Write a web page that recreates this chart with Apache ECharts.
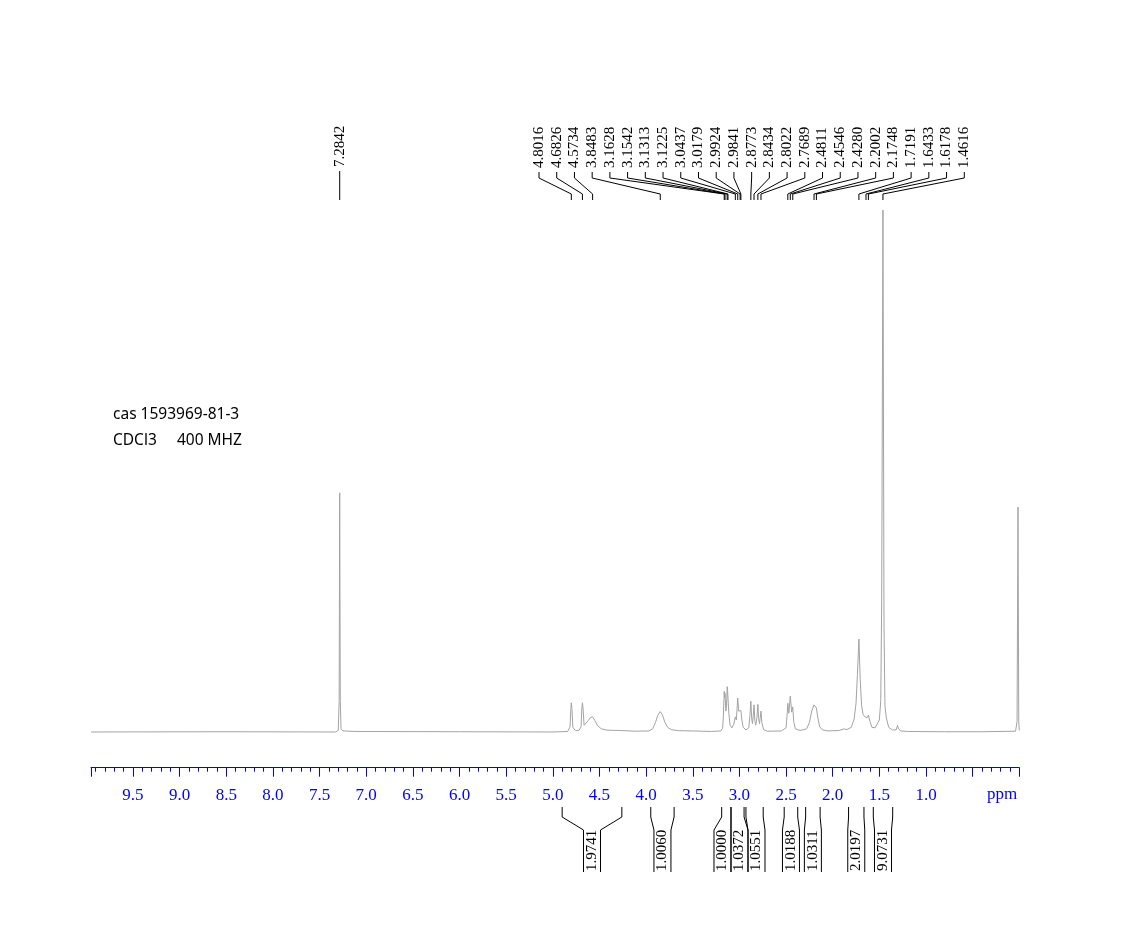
<!DOCTYPE html>
<html><head><meta charset="utf-8">
<script src="https://cdn.jsdelivr.net/npm/echarts@6/dist/echarts.min.js"></script>
<style>html,body{margin:0;padding:0;background:#fff}#c{width:1140px;height:952px}</style>
</head><body><div id="c"></div>
<script>
// ---- data ----
const tickLabels = ['9.5','9.0','8.5','8.0','7.5','7.0','6.5','6.0','5.5','5.0','4.5','4.0','3.5','3.0','2.5','2.0','1.5','1.0'];

// [ppm, relative intensity] points
const spectrum = [
[9.95,0],[8.5,0.05],[7.33,0],[7.30,0.3],[7.29,6],[7.2842,45.8],[7.278,6],[7.27,0.6],[7.25,0.2],[7.1,0.1],
[6.0,0.05],[5.0,0],[4.84,0.1],[4.815,1],[4.807,4.5],[4.8016,5.6],[4.795,4.5],[4.785,0.9],[4.76,0.3],[4.72,0.3],
[4.697,1],[4.689,4.6],[4.6826,5.6],[4.676,4.6],[4.665,1.3],[4.645,1.3],[4.62,2.2],[4.595,2.8],[4.5734,2.9],[4.55,2.2],
[4.52,1.2],[4.48,0.6],[4.42,0.35],[4.31,0.3],[4.1,0.15],[3.97,0.2],[3.93,0.6],[3.90,1.8],[3.875,3.2],[3.8483,3.9],
[3.825,3.3],[3.80,1.9],[3.77,0.9],[3.73,0.45],[3.65,0.25],[3.5,0.2],[3.3,0.1],[3.2,0.2],[3.18,0.7],[3.172,3],
[3.1628,7.8],[3.158,6.6],[3.1542,7.4],[3.145,4],[3.138,5],[3.1313,8.7],[3.127,8],[3.1225,8.2],[3.113,3.5],[3.10,1.3],
[3.08,0.8],[3.06,1.5],[3.0437,2.9],[3.033,2.3],[3.025,4.5],[3.0179,6.5],[3.008,4.0],[2.998,3.8],[2.9924,4.1],[2.988,3.7],
[2.9841,4.1],[2.975,2.5],[2.96,0.9],[2.93,0.4],[2.90,0.8],[2.888,3],[2.8773,5.9],[2.868,2.5],[2.86,1.6],[2.852,3],
[2.8434,5.2],[2.835,2.2],[2.825,1.3],[2.812,2.8],[2.8022,5.3],[2.795,2.8],[2.785,1.6],[2.778,2.6],[2.7689,4.0],[2.76,1.8],
[2.74,0.45],[2.70,0.15],[2.55,0.2],[2.50,0.8],[2.49,3],[2.4811,5.5],[2.470,3.6],[2.4546,6.9],[2.44,3.8],[2.428,4.8],
[2.418,2],[2.40,0.6],[2.35,0.3],[2.28,0.6],[2.25,1.8],[2.225,4.0],[2.2002,5.2],[2.1748,4.6],[2.16,2.8],[2.14,1.0],
[2.11,0.4],[2.05,0.2],[1.93,0.3],[1.88,0.6],[1.85,0.45],[1.80,0.9],[1.77,2.5],[1.75,5.5],[1.735,11],[1.7191,17.8],
[1.705,10],[1.69,5],[1.675,3.4],[1.66,3],[1.6433,3.0],[1.632,2.7],[1.6178,3.2],[1.60,2],[1.58,0.9],[1.565,0.7],
[1.545,0.8],[1.53,1.0],[1.50,2.3],[1.485,6],[1.475,25],[1.4616,100],[1.45,20],[1.44,5],[1.425,2.7],[1.40,0.9],
[1.36,0.4],[1.32,0.4],[1.305,1.3],[1.295,0.6],[1.27,0.2],[1.2,0.1],[0.8,0.05],[0.4,0.05],[0.04,0.15],[0.024,2],
[0.014,43.1],[0.006,2],[0,0.3]
];

const peakShifts = [4.8016,4.6826,4.5734,3.8483,3.1628,3.1542,3.1313,3.1225,3.0437,3.0179,2.9924,2.9841,2.8773,
  2.8434,2.8022,2.7689,2.4811,2.4546,2.4280,2.2002,2.1748,1.7191,1.6433,1.6178,1.4616];
const solventShift = [7.2842];

const integralFrom   = [4.90, 3.95, 3.19, 3.09, 2.93, 2.52, 2.29, 1.83, 1.565];
const integralTo     = [4.26, 3.70, 3.09, 2.95, 2.745, 2.375, 2.135, 1.665, 1.357];
const integralValues = ['1.9741','1.0060','1.0000','1.0372','1.0551','1.0188','1.0311','2.0197','9.0731'];

const annotations = ['cas 1593969-81-3', 'CDCl3     400 MHZ'];

// ---- rendering ----
const SERIF = '"Liberation Serif","DejaVu Serif",serif';
const SANS = '"Noto Sans","Open Sans",sans-serif';
const BLUE = '#0000ff';
const chart = echarts.init(document.getElementById('c'), null, {renderer: 'canvas'});

function peakLabelItem(params, api) {
  const i = params.dataIndex;
  const px = api.coord([api.value(0), 0])[0];
  const lx = 539 + i * 17.72;
  return {
    type: 'group',
    children: [
      {type: 'polyline', shape: {points: [[lx,172],[lx,178],[px,194],[px,200]]},
       style: {stroke: '#000', lineWidth: 1, fill: null}},
      {type: 'text', x: lx, y: 168, rotation: Math.PI / 2,
       style: {text: api.value(0).toFixed(4), x: 0, y: 0, align: 'left', verticalAlign: 'middle',
               font: '15px ' + SERIF, fill: '#000'}}
    ]
  };
}

function solventItem(params, api) {
  const px = api.coord([api.value(0), 0])[0];
  return {
    type: 'group',
    children: [
      {type: 'line', shape: {x1: px, y1: 171, x2: px, y2: 200}, style: {stroke: '#000', lineWidth: 1}},
      {type: 'text', x: px, y: 167, rotation: Math.PI / 2,
       style: {text: api.value(0).toFixed(4), x: 0, y: 0, align: 'left', verticalAlign: 'middle',
               font: '15px ' + SERIF, fill: '#000'}}
    ]
  };
}

function integralColumns(api) {
  // desired column centres, spread so label columns do not overlap
  const W = 17;
  const items = integralFrom.map((f, i) => {
    const a = api.coord([f, 0])[0], b = api.coord([integralTo[i], 0])[0];
    return {i, c: (a + b) / 2};
  }).sort((p, q) => p.c - q.c);
  const place = cl => {
    const mean = cl.members.reduce((s, m) => s + m.c, 0) / cl.members.length;
    const start = mean - (cl.members.length - 1) * W / 2;
    return {start, end: start + (cl.members.length - 1) * W};
  };
  const clusters = [];
  items.forEach(it => {
    clusters.push({members: [it]});
    let merged = true;
    while (merged && clusters.length > 1) {
      merged = false;
      const last = clusters[clusters.length - 1], prev = clusters[clusters.length - 2];
      if (place(last).start < place(prev).end + W) {
        prev.members = prev.members.concat(last.members);
        clusters.pop();
        merged = true;
      }
    }
  });
  const pos = [];
  clusters.forEach(cl => {
    const start = place(cl).start;
    cl.members.forEach((m, k) => { pos[m.i] = start + k * W; });
  });
  return pos;
}

function integralItem(params, api) {
  const i = params.dataIndex;
  const cols = integralColumns(api);
  const x1 = api.coord([integralFrom[i], 0])[0];
  const x2 = api.coord([integralTo[i], 0])[0];
  const c = cols[i], cl = c - 8.5, cr = c + 8.5;
  const T = 807, B1 = 817, B2 = 830, BOT = 872;
  return {
    type: 'group',
    children: [
      {type: 'polyline', shape: {points: [[x1,T],[x1,B1],[cl,B2],[cl,BOT]]}, style: {stroke: '#000', lineWidth: 1, fill: null}},
      {type: 'polyline', shape: {points: [[x2,T],[x2,B1],[cr,B2],[cr,BOT]]}, style: {stroke: '#000', lineWidth: 1, fill: null}},
      {type: 'text', x: c, y: 871, rotation: Math.PI / 2,
       style: {text: integralValues[i], x: 0, y: 0, align: 'left', verticalAlign: 'middle',
               font: '15px ' + SERIF, fill: '#000'}}
    ]
  };
}

const option = {
  animation: false,
  backgroundColor: '#ffffff',
  grid: {left: 91, right: 120.7, top: 210, bottom: 184.3},
  xAxis: {
    type: 'value', inverse: true, min: 0, max: 9.95, interval: 0.5,
    axisLine: {show: true, onZero: false, lineStyle: {color: BLUE, width: 1}},
    axisTick: {show: true, length: 9, lineStyle: {color: BLUE}},
    minorTick: {show: true, splitNumber: 5, length: 4, lineStyle: {color: BLUE}},
    splitLine: {show: false},
    axisLabel: {
      color: BLUE, fontFamily: SERIF, fontSize: 17, margin: 19,
      formatter: v => {
        const s = v.toFixed(1);
        return (Math.abs(v - parseFloat(s)) < 1e-6 && tickLabels.includes(s)) ? s : '';
      }
    }
  },
  yAxis: {type: 'value', min: -6.84, max: 100, show: false},
  graphic: [
    {type: 'text', left: 113, top: 407, style: {text: annotations[0], font: '15.5px ' + SANS, fill: '#000'}},
    {type: 'text', left: 113, top: 433, style: {text: annotations[1], font: '15.5px ' + SANS, fill: '#000'}},
    {type: 'text', left: 987, top: 786, style: {text: 'ppm', font: '17px ' + SERIF, fill: BLUE}}
  ],
  series: [
    {type: 'line', data: spectrum, showSymbol: false, symbol: 'none', sampling: null,
     lineStyle: {color: '#a3a3a3', width: 1}, clip: true, z: 2},
    {type: 'custom', data: peakShifts.map(p => [p, 0]), renderItem: peakLabelItem, clip: false, silent: true, z: 3},
    {type: 'custom', data: solventShift.map(p => [p, 0]), renderItem: solventItem, clip: false, silent: true, z: 3},
    {type: 'custom', data: integralFrom.map((f, i) => [f, 0]), renderItem: integralItem, clip: false, silent: true, z: 3}
  ]
};
chart.setOption(option);
</script>
</body></html>
